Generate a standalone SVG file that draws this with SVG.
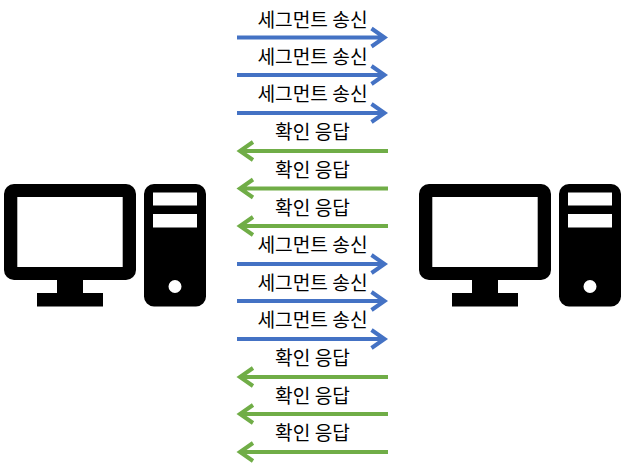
<svg xmlns="http://www.w3.org/2000/svg" width="626" height="470" viewBox="0 0 626 470">
<style>
text{font-family:"Noto Sans CJK KR","Noto Sans",sans-serif;font-size:19.200px;fill:#000;text-anchor:middle}
.b{stroke:#4472c4;fill:none;stroke-width:4}
.g{stroke:#70ad47;fill:none;stroke-width:4}
</style>
<defs>
<g id="pc">
<path fill-rule="evenodd" d="M14 184H126a10 10 0 0 1 10 10V270a10 10 0 0 1-10 10H83V293H103V306.500H37V293H57V280H14a10 10 0 0 1-10-10V194a10 10 0 0 1 10-10ZM17.300 197V267H122.700V197Z"/>
<path fill-rule="evenodd" d="M154 184H196a10 10 0 0 1 10 10V296.500a10 10 0 0 1-10 10H154a10 10 0 0 1-10-10V194a10 10 0 0 1 10-10ZM153 192.500V205.500H197V192.500ZM153 214V227.500H197V214ZM175 280a6.500 6.500 0 1 0 0 13a6.500 6.500 0 1 0 0-13Z"/>
</g>
<path id="r" d="M237 0H384M371.500-9L384.500 0L371.500 9"/>
<path id="l" d="M388 0H240.500M253-9L240 0L253 9"/>
</defs>
<g id="pc-left"><use href="#pc"/></g>
<g id="pc-right"><use href="#pc" x="415"/></g>
<g id="connectors">
<use href="#r" class="b" y="37.500"/>
<use href="#r" class="b" y="75"/>
<use href="#r" class="b" y="113"/>
<use href="#l" class="g" y="151"/>
<use href="#l" class="g" y="188.500"/>
<use href="#l" class="g" y="226"/>
<use href="#r" class="b" y="264"/>
<use href="#r" class="b" y="301"/>
<use href="#r" class="b" y="339"/>
<use href="#l" class="g" y="377"/>
<use href="#l" class="g" y="414"/>
<use href="#l" class="g" y="452"/>
</g>
<g id="labels">
<text x="312.500" y="27">세그먼트 송신</text>
<text x="312.500" y="64">세그먼트 송신</text>
<text x="312.500" y="101">세그먼트 송신</text>
<text x="312.500" y="139">확인 응답</text>
<text x="312.500" y="177">확인 응답</text>
<text x="312.500" y="215">확인 응답</text>
<text x="312.500" y="252">세그먼트 송신</text>
<text x="312.500" y="290">세그먼트 송신</text>
<text x="312.500" y="327">세그먼트 송신</text>
<text x="312.500" y="365">확인 응답</text>
<text x="312.500" y="403">확인 응답</text>
<text x="312.500" y="440">확인 응답</text>
</g>
</svg>
